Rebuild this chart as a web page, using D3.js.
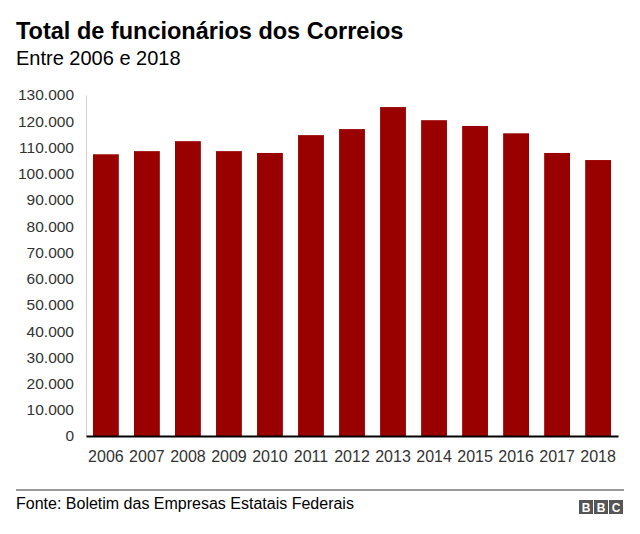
<!DOCTYPE html>
<html>
<head>
<meta charset="utf-8">
<script src="https://cdn.jsdelivr.net/npm/d3@7"></script>
<style>
  body { margin: 0; background: #fff; }
  text { font-family: "Liberation Sans", Arial, Helvetica, sans-serif; }
</style>
</head>
<body>
<div id="chart"></div>
<script>
var years = ['2006', '2007', '2008', '2009', '2010', '2011', '2012', '2013', '2014', '2015', '2016', '2017', '2018'];
var employees = [107400, 108600, 112400, 108600, 107900, 114700, 117000, 125400, 120400, 118200, 115400, 107900, 105200];
var yTicks = [0, 10000, 20000, 30000, 40000, 50000, 60000, 70000, 80000, 90000, 100000, 110000, 120000, 130000];

var width = 640, height = 534;
var margin = { top: 95, right: 20, bottom: 98, left: 86 };
var innerW = width - margin.left - margin.right;
var innerH = height - margin.top - margin.bottom;

var svg = d3.select('#chart')
  .append('svg')
  .attr('width', width)
  .attr('height', height);

// title
svg.append('text')
  .attr('x', 16).attr('y', 39)
  .attr('font-size', 23.5).attr('font-weight', 'bold')
  .attr('fill', '#000')
  .text('Total de funcionários dos Correios');

svg.append('text')
  .attr('x', 16).attr('y', 65)
  .attr('font-size', 20)
  .attr('fill', '#000')
  .text('Entre 2006 e 2018');

var g = svg.append('g')
  .attr('transform', 'translate(' + margin.left + ',' + margin.top + ')');

var x = d3.scaleBand()
  .domain(years)
  .range([0, innerW - 2])
  .paddingInner(0.37)
  .paddingOuter(0.17);

var y = d3.scaleLinear()
  .domain([0, 130000])
  .range([innerH, 0]);

var fmt = function (d) { return d3.format(',')(d).replace(/,/g, '.'); };

// y axis
var axisY = d3.axisLeft(y)
  .tickValues(yTicks)
  .tickSize(0)
  .tickPadding(12)
  .tickFormat(fmt);

var gy = g.append('g').attr('class', 'axisY').call(axisY);
gy.select('.domain').attr('stroke', '#d0d0d0').attr('stroke-width', 1);
gy.selectAll('text')
  .attr('font-size', 15.5)
  .attr('fill', '#333');

// bars
g.append('g')
  .selectAll('rect')
  .data(employees)
  .enter()
  .append('rect')
  .attr('x', function (d, i) { return x(years[i]); })
  .attr('y', function (d) { return y(d); })
  .attr('width', x.bandwidth())
  .attr('height', function (d) { return innerH - y(d); })
  .attr('fill', '#990000');

// x axis
var axisX = d3.axisBottom(x)
  .tickSize(0)
  .tickPadding(15);

var gx = g.append('g')
  .attr('class', 'axisX')
  .attr('transform', 'translate(0,' + innerH + ')')
  .call(axisX);
gx.select('.domain').attr('stroke', '#000').attr('stroke-width', 2);
gx.selectAll('text')
  .attr('font-size', 16)
  .attr('fill', '#333');

// footer
svg.append('line')
  .attr('x1', 16).attr('x2', 624)
  .attr('y1', 490).attr('y2', 490)
  .attr('stroke', '#333').attr('stroke-width', 1);

svg.append('text')
  .attr('x', 16).attr('y', 509)
  .attr('font-size', 16)
  .attr('fill', '#000')
  .text('Fonte: Boletim das Empresas Estatais Federais');

var logo = svg.append('g').attr('transform', 'translate(579,500)');
['B', 'B', 'C'].forEach(function (c, i) {
  logo.append('rect')
    .attr('x', i * 15).attr('y', 0)
    .attr('width', 14).attr('height', 14)
    .attr('fill', '#555');
  logo.append('text')
    .attr('x', i * 15 + 7).attr('y', 11.5)
    .attr('text-anchor', 'middle')
    .attr('font-size', 12).attr('font-weight', 'bold')
    .attr('fill', '#fff')
    .text(c);
});
</script>
</body>
</html>
